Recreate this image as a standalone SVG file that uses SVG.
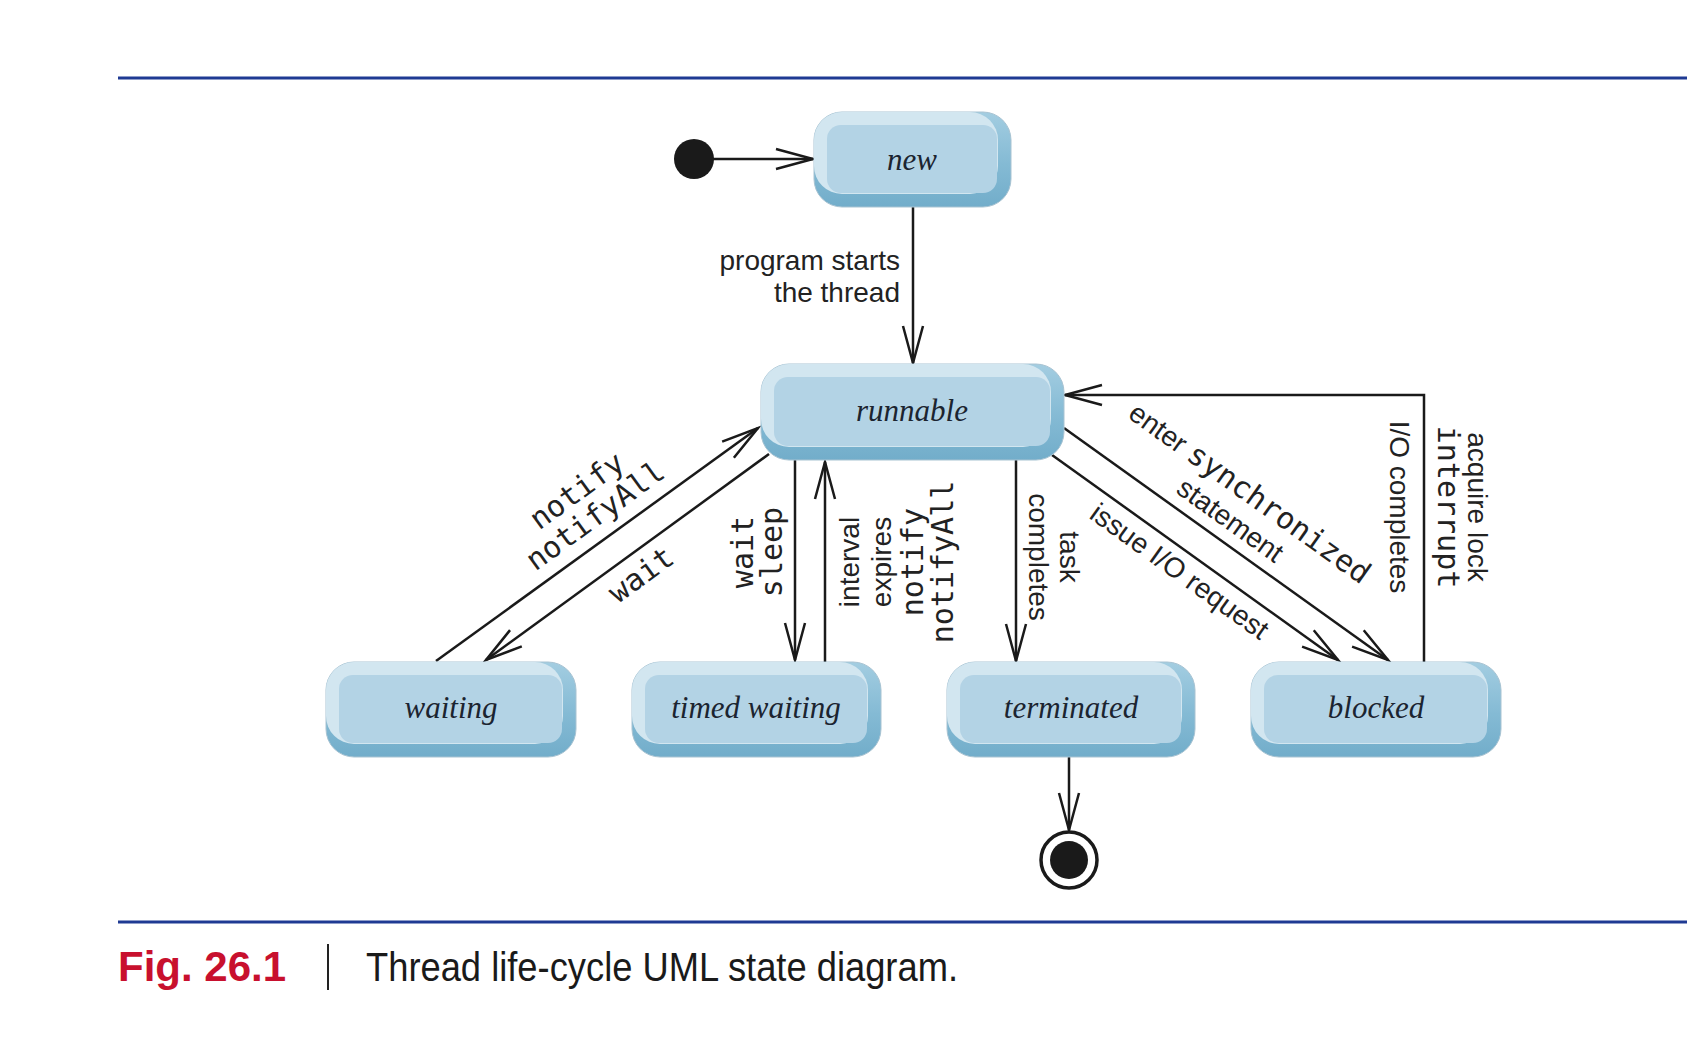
<svg xmlns="http://www.w3.org/2000/svg" width="1687" height="1053" viewBox="0 0 1687 1053">
<style>
.base{fill:url(#gBase);stroke:#a8c3d2;stroke-width:1}
.light{fill:#d2e6f0}
.face{fill:#b3d3e5}
.nlabel{font-family:"Liberation Serif",serif;font-style:italic;font-size:31px;fill:#1b2430;text-anchor:middle}
.edge{fill:none;stroke:#1a1a1a;stroke-width:2.5}
.lbl{font-family:"Liberation Sans",Arial,sans-serif;font-size:28px;fill:#222}
.mono{font-family:"DejaVu Sans Mono",monospace;font-size:30px;fill:#222}
.rule{stroke:#1f3a93;stroke-width:3}
</style>
<defs>
<linearGradient id="gBase" x1="0" y1="0" x2="0" y2="1">
<stop offset="0" stop-color="#a3cde1"/>
<stop offset="0.55" stop-color="#84bad4"/>
<stop offset="1" stop-color="#72adca"/>
</linearGradient>
<marker id="arr" markerUnits="userSpaceOnUse" markerWidth="50" markerHeight="30" viewBox="-42 -15 50 30" refX="0" refY="0" orient="auto">
<path d="M-37,-10 L0,0 L-37,10" fill="none" stroke="#1a1a1a" stroke-width="2.5"/>
</marker>
</defs>
<rect width="1687" height="1053" fill="#ffffff"/>
<line class="rule" x1="118" y1="78" x2="1687" y2="78"/>
<line class="rule" x1="118" y1="922" x2="1687" y2="922"/>

<g id="connectors">
<circle cx="694" cy="159" r="20" fill="#1a1a1a"/>
<path class="edge" d="M713,159 L813,159" marker-end="url(#arr)"/>
<path class="edge" d="M913,207 L913,363" marker-end="url(#arr)"/>
<path class="edge" d="M769,454 L486,660" marker-end="url(#arr)"/>
<path class="edge" d="M436,661 L758,428" marker-end="url(#arr)"/>
<path class="edge" d="M795,460 L795,660" marker-end="url(#arr)"/>
<path class="edge" d="M825,662 L825,462" marker-end="url(#arr)"/>
<path class="edge" d="M1016,460 L1016,661" marker-end="url(#arr)"/>
<path class="edge" d="M1064,428 L1388,660" marker-end="url(#arr)"/>
<path class="edge" d="M1052,455 L1338,660" marker-end="url(#arr)"/>
<path class="edge" d="M1424,662 L1424,395 L1065,395" marker-end="url(#arr)"/>
<path class="edge" d="M1069,757 L1069,830" marker-end="url(#arr)"/>
<circle cx="1069" cy="860" r="28" fill="#ffffff" stroke="#1a1a1a" stroke-width="3.5"/>
<circle cx="1069" cy="860" r="19" fill="#1a1a1a"/>

<text class="lbl" text-anchor="end"><tspan x="900" y="270">program starts</tspan><tspan x="900" y="302">the thread</tspan></text>
<text class="mono" text-anchor="middle" transform="translate(601,524) rotate(-36)"><tspan x="0" y="-31">notify</tspan><tspan x="0" y="0">notifyAll</tspan></text>
<text class="mono" text-anchor="middle" transform="translate(647,583) rotate(-36)">wait</text>
<text class="mono" text-anchor="middle" transform="translate(753,552) rotate(-90)"><tspan x="0" y="0">wait</tspan><tspan x="0" y="29">sleep</tspan></text>
<text text-anchor="middle" transform="translate(859,562) rotate(-90)"><tspan class="lbl" x="0" y="0">interval</tspan><tspan class="lbl" x="0" y="32">expires</tspan><tspan class="mono" x="0" y="64">notify</tspan><tspan class="mono" x="0" y="94">notifyAll</tspan></text>
<text class="lbl" text-anchor="middle" transform="translate(1060,557) rotate(90)"><tspan x="0" y="0">task</tspan><tspan x="0" y="31">completes</tspan></text>
<text text-anchor="middle" transform="translate(1244,501) rotate(35.6)"><tspan class="lbl" x="0" y="0">enter </tspan><tspan class="mono">synchronized</tspan><tspan class="lbl" x="0" y="33">statement</tspan></text>
<text class="lbl" text-anchor="middle" transform="translate(1174,579) rotate(35.6)">issue I/O request</text>
<text class="lbl" text-anchor="middle" transform="translate(1390,507) rotate(90)">I/O completes</text>
<text text-anchor="middle" transform="translate(1468,507) rotate(90)"><tspan class="lbl" x="0" y="0">acquire lock</tspan><tspan class="mono" x="0" y="30">interrupt</tspan></text>
</g>

<g id="node-new">
<rect class="base" x="814" y="112" width="197" height="95" rx="28"/>
<rect class="light" x="814" y="112" width="184" height="82" rx="28"/>
<rect class="face" x="827" y="125" width="170" height="68" rx="14"/>
<text class="nlabel" x="912" y="170">new</text>
</g>
<g id="node-runnable">
<rect class="base" x="761" y="364" width="303" height="96" rx="28"/>
<rect class="light" x="761" y="364" width="290" height="83" rx="28"/>
<rect class="face" x="774" y="377" width="276" height="69" rx="14"/>
<text class="nlabel" x="912" y="421">runnable</text>
</g>
<g id="node-waiting">
<rect class="base" x="326" y="662" width="250" height="95" rx="28"/>
<rect class="light" x="326" y="662" width="237" height="82" rx="28"/>
<rect class="face" x="339" y="675" width="223" height="68" rx="14"/>
<text class="nlabel" x="451" y="718">waiting</text>
</g>
<g id="node-timed-waiting">
<rect class="base" x="632" y="662" width="249" height="95" rx="28"/>
<rect class="light" x="632" y="662" width="236" height="82" rx="28"/>
<rect class="face" x="645" y="675" width="222" height="68" rx="14"/>
<text class="nlabel" x="756" y="718">timed waiting</text>
</g>
<g id="node-terminated">
<rect class="base" x="947" y="662" width="248" height="95" rx="28"/>
<rect class="light" x="947" y="662" width="235" height="82" rx="28"/>
<rect class="face" x="960" y="675" width="221" height="68" rx="14"/>
<text class="nlabel" x="1071" y="718">terminated</text>
</g>
<g id="node-blocked">
<rect class="base" x="1251" y="662" width="250" height="95" rx="28"/>
<rect class="light" x="1251" y="662" width="237" height="82" rx="28"/>
<rect class="face" x="1264" y="675" width="223" height="68" rx="14"/>
<text class="nlabel" x="1376" y="718">blocked</text>
</g>

<g id="caption">
<text x="118" y="981" font-family="Liberation Sans, Arial, sans-serif" font-weight="bold" font-size="42" fill="#c8102e">Fig. 26.1</text>
<line x1="328" y1="944" x2="328" y2="990" stroke="#222" stroke-width="2"/>
<text x="366" y="981" font-family="Liberation Sans, Arial, sans-serif" font-size="40" fill="#1a1a1a" textLength="592" lengthAdjust="spacingAndGlyphs">Thread life-cycle UML state diagram.</text>
</g>
</svg>
